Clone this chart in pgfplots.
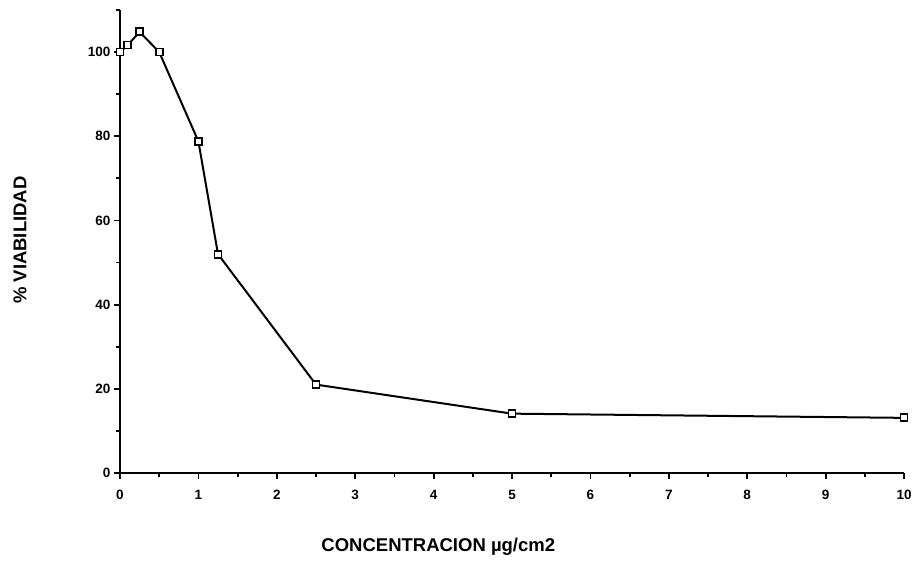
\documentclass[border=0pt]{standalone}
\usepackage{fontspec}
\setmainfont{Liberation Sans}
\usepackage{pgfplots}
\pgfplotsset{compat=1.18}
\begin{document}
\begin{tikzpicture}
\path[use as bounding box] (-120pt,-87pt) rectangle (795pt,473pt);
\begin{axis}[
  at={(0pt,0pt)}, anchor=south west,
  scale only axis, width=784pt, height=463pt,
  xmin=0, xmax=10, ymin=0, ymax=110,
  axis x line*=bottom, axis y line*=left,
  axis line style={line width=2.2pt},
  xtick={0,1,...,10}, minor xtick={0.5,1.5,...,9.5},
  ytick={0,20,...,100}, minor ytick={10,30,...,110},
  tick align=outside,
  major tick length=6pt, minor tick length=4pt,
  every tick/.style={line width=1.8pt, black},
  /pgf/number format/assume math mode=true,
  ticklabel style={font=\bfseries\fontsize{13.5}{13.5}\selectfont},
  xticklabel style={yshift=-8pt},
  xlabel={CONCENTRACION µg/cm2},
  ylabel={\% VIABILIDAD},
  label style={font=\bfseries\fontsize{18.5}{18.5}\selectfont},
  xlabel style={at={(rel axis cs:0.406,0)}, anchor=center, yshift=-74pt},
  ylabel style={at={(rel axis cs:0,0.503)}, anchor=center, yshift=100pt},
  clip=false,
]
\addplot[black, line width=2pt, mark=square*, mark size=3.5pt,
  mark options={fill=white, line width=1.8pt}]
coordinates {
(0,100) (0.1,101.7) (0.25,104.8) (0.5,100) (1,78.8) (1.25,52) (2.5,21) (5,14.1) (10,13.1)
};
\end{axis}
\end{tikzpicture}
\end{document}
